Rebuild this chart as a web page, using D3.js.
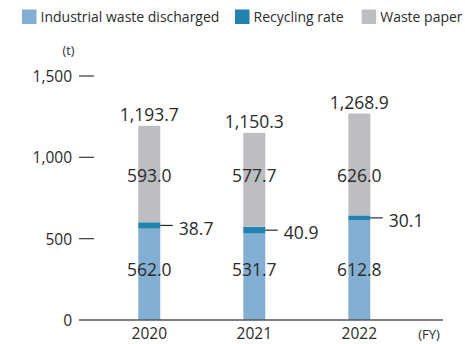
<!DOCTYPE html>
<html>
<head>
<meta charset="utf-8">
<script src="https://cdn.jsdelivr.net/npm/d3@7"></script>
<style>
  html, body { margin: 0; padding: 0; background: #fff; }
  svg { display: block; }
  text { font-family: "Open Sans", "Noto Sans", sans-serif; fill: #2b2b2b; }
</style>
</head>
<body>
<script>
// Fiscal years and the three stacked components (t)
const years = ["2020", "2021", "2022"];
const industrialWaste = [562.0, 531.7, 612.8];
const recyclingRate = [38.7, 40.9, 30.1];
const wastePaper = [593.0, 577.7, 626.0];
const totals = [1193.7, 1150.3, 1268.9];
const yTickValues = [0, 500, 1000, 1500];

const seriesNames = ["Industrial waste discharged", "Recycling rate", "Waste paper"];
const seriesColors = ["#83afd2", "#2282b0", "#bdbec2"];

const W = 465, H = 344;
const svg = d3.select("body").append("svg").attr("width", W).attr("height", H);

const y = d3.scaleLinear().domain([0, 1500]).range([320, 76]);
const x = d3.scaleBand().domain(years).range([96.8, 411.8])
  .paddingInner(0.7905).paddingOuter(0.395);

// stack rows built from the arrays
const rows = years.map((yr, i) => ({
  year: yr,
  industrial: industrialWaste[i],
  recycling: recyclingRate[i],
  paper: wastePaper[i]
}));
const keys = ["industrial", "recycling", "paper"];
const stacked = d3.stack().keys(keys)(rows);

// legend
const legend = svg.append("g");
const legendX = [22, 235, 361.7];
seriesNames.forEach((name, i) => {
  const g = legend.append("g").attr("transform", `translate(${legendX[i]},9.5)`);
  g.append("rect").attr("width", 14.5).attr("height", 14.5).attr("fill", seriesColors[i]);
  g.append("text").attr("x", 18.5).attr("y", 12.2).style("font-size", "14px").text(name);
});

// unit
svg.append("text").attr("x", 68.5).attr("y", 54.5).attr("text-anchor", "middle")
  .style("font-size", "12.5px").text("(t)");

// y axis: labels on the left, short dashes at each tick, baseline across the plot
const yAxis = d3.axisLeft(y).tickValues(yTickValues.filter(v => v > 0))
  .tickSize(0).tickPadding(0).tickFormat(d3.format(","));
const gy = svg.append("g").attr("transform", "translate(72,0)").call(yAxis);
gy.select(".domain").remove();
gy.selectAll("text").style("font-size", "15.5px").attr("dy", "0.36em").style("fill", "#2b2b2b");
svg.append("g").selectAll("line").data(yTickValues.filter(v => v > 0)).join("line")
  .attr("x1", 79).attr("x2", 94).attr("y1", d => y(d)).attr("y2", d => y(d))
  .attr("stroke", "#3a3a3a").attr("stroke-width", 1.2);
svg.append("text").attr("x", 72).attr("y", y(0)).attr("dy", "0.36em")
  .attr("text-anchor", "end").style("font-size", "15.5px").text("0");

// bars
svg.append("g").selectAll("g").data(stacked).join("g")
  .attr("fill", (d, i) => seriesColors[i])
  .selectAll("rect").data(d => d).join("rect")
  .attr("x", d => x(d.data.year))
  .attr("width", x.bandwidth())
  .attr("y", d => y(d[1]))
  .attr("height", d => y(d[0]) - y(d[1]));

// x axis baseline
svg.append("line").attr("x1", 79).attr("x2", 443).attr("y1", y(0)).attr("y2", y(0))
  .attr("stroke", "#555").attr("stroke-width", 1.3);

// year labels
svg.append("g").selectAll("text").data(years).join("text")
  .attr("x", d => x(d) + x.bandwidth() / 2).attr("y", 339)
  .attr("text-anchor", "middle").style("font-size", "15.5px").text(d => d);
svg.append("text").attr("x", 429).attr("y", 339).attr("text-anchor", "middle")
  .style("font-size", "13px").text("(FY)");

const fmt = d3.format(",.1f");
const cx = d => x(d) + x.bandwidth() / 2;

// totals above bars
svg.append("g").selectAll("text").data(rows).join("text")
  .attr("x", d => cx(d.year)).attr("y", (d, i) => y(totals[i]) - 5)
  .attr("text-anchor", "middle").style("font-size", "17.5px").text((d, i) => fmt(totals[i]));

// values inside the light blue and grey segments
svg.append("g").selectAll("text").data(rows).join("text")
  .attr("x", d => cx(d.year)).attr("y", y(307)).attr("dy", "0.36em")
  .attr("text-anchor", "middle").style("font-size", "17.5px").text(d => fmt(d.industrial));
svg.append("g").selectAll("text").data(rows).join("text")
  .attr("x", d => cx(d.year)).attr("y", y(885)).attr("dy", "0.36em")
  .attr("text-anchor", "middle").style("font-size", "17.5px").text(d => fmt(d.paper));

// recycling callouts to the right of each bar
const callout = svg.append("g").selectAll("g").data(rows).join("g")
  .attr("transform", d => `translate(${x(d.year) + x.bandwidth()},${y(d.industrial + d.recycling / 2)})`);
callout.append("line").attr("x1", 0).attr("x2", 12.5).attr("y1", 0).attr("y2", 0)
  .attr("stroke", "#2b2b2b").attr("stroke-width", 1.2);
callout.append("text").attr("x", 18.5).attr("y", 3).attr("dy", "0.36em")
  .style("font-size", "17.5px").text(d => fmt(d.recycling));
</script>
</body>
</html>
